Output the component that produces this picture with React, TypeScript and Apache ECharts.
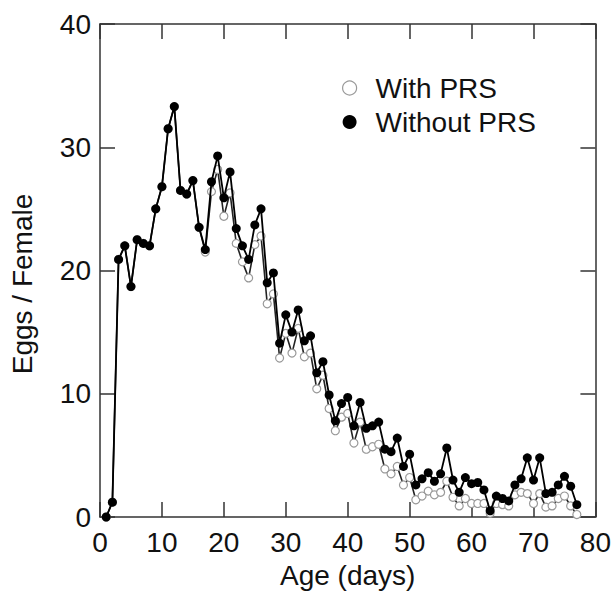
import React, { useEffect, useRef } from "react";
import * as echarts from "echarts";

const ages: number[] = Array.from({ length: 77 }, (_, i) => i + 1);

const withoutPRS: number[] = [
  0, 1.2, 20.9, 22.0, 18.7, 22.5, 22.2, 22.0, 25.0, 26.8,
  31.5, 33.3, 26.5, 26.2, 27.3, 23.5, 21.7, 27.2, 29.3, 25.9,
  28.0, 23.4, 22.0, 20.9, 23.7, 25.0, 19.0, 19.8, 14.1, 16.4,
  15.0, 16.8, 14.3, 14.7, 11.7, 12.6, 9.9, 7.8, 9.2, 9.7,
  7.4, 9.3, 7.2, 7.4, 7.7, 5.5, 5.3, 6.4, 4.1, 5.1,
  2.6, 3.1, 3.6, 2.9, 3.5, 5.6, 3.0, 2.0, 3.2, 2.7,
  2.8, 2.2, 0.5, 1.7, 1.5, 1.3, 2.6, 3.1, 4.8, 3.0,
  4.8, 1.9, 2.0, 2.6, 3.3, 2.5, 1.0,
];

const withPRS: number[] = [
  0, 1.2, 20.9, 22.0, 18.7, 22.5, 22.2, 22.0, 25.0, 26.8,
  31.5, 33.3, 26.5, 26.2, 27.3, 23.5, 21.5, 26.4, 28.2, 24.4,
  26.3, 22.2, 20.7, 19.4, 22.1, 22.8, 17.3, 18.1, 12.9, 14.9,
  13.3, 15.3, 13.0, 13.3, 10.4, 11.5, 8.8, 7.0, 8.1, 8.4,
  6.0, 7.7, 5.5, 5.7, 5.9, 3.9, 3.5, 4.1, 2.6, 3.2,
  1.4, 1.7, 2.1, 1.8, 2.0, 2.9, 1.6, 0.9, 1.5, 1.1,
  1.1, 1.1, 0.3, 1.1, 1.0, 0.9, 1.8, 2.0, 1.9, 1.1,
  1.9, 0.8, 0.9, 1.5, 1.7, 0.9, 0.2,
];

const xTicks = { min: 0, max: 80, interval: 10 };
const yTicks = { min: 0, max: 40, interval: 10 };

const FONT = "'Liberation Sans', Arial, Helvetica, sans-serif";
const AXIS_COLOR = "#333";
const FS = 28;

export default function App() {
  const ref = useRef<HTMLDivElement>(null);

  useEffect(() => {
    if (!ref.current) return;
    const chart = echarts.init(ref.current, undefined, { renderer: "svg" });
    const axisLine = { show: true, onZero: false, lineStyle: { color: AXIS_COLOR, width: 1.5 } };
    const tickInside = { show: true, inside: true, length: 15, lineStyle: { color: AXIS_COLOR, width: 1.5 } };
    const labelStyle = { color: "#111", fontSize: FS, fontFamily: FONT };
    chart.setOption({
      animation: false,
      backgroundColor: "#fff",
      grid: { left: 100, right: 18, top: 24, bottom: 76, containLabel: false },
      legend: {
        orient: "vertical",
        left: 337,
        top: 69,
        itemWidth: 14,
        itemHeight: 14,
        itemGap: 6,
        textStyle: { ...labelStyle, lineHeight: 28, padding: [0, 0, 0, 14] },
        data: [
          { name: "With PRS", icon: "circle", itemStyle: { color: "#fff", borderColor: "#999", borderWidth: 1.2 } },
          { name: "Without PRS", icon: "circle", itemStyle: { color: "#000" } },
        ],
      },
      xAxis: [
        {
          type: "value",
          ...xTicks,
          position: "bottom",
          axisLine,
          axisTick: tickInside,
          axisLabel: { ...labelStyle, margin: 11 },
          splitLine: { show: false },
          name: "Age (days)",
          nameLocation: "middle",
          nameGap: 44,
          nameTextStyle: { ...labelStyle },
        },
        {
          type: "value",
          ...xTicks,
          position: "top",
          axisLine,
          axisTick: tickInside,
          axisLabel: { show: false },
          splitLine: { show: false },
        },
      ],
      yAxis: [
        {
          type: "value",
          ...yTicks,
          position: "left",
          axisLine,
          axisTick: tickInside,
          axisLabel: { ...labelStyle, margin: 9 },
          splitLine: { show: false },
        },
        {
          type: "value",
          ...yTicks,
          position: "right",
          axisLine,
          axisTick: tickInside,
          axisLabel: { show: false },
          splitLine: { show: false },
        },
      ],
      graphic: [
        {
          type: "text",
          x: 22,
          y: 284,
          rotation: Math.PI / 2,
          style: {
            text: "Eggs / Female",
            fontSize: FS,
            fontFamily: FONT,
            fill: "#111",
            textAlign: "center",
            textVerticalAlign: "middle",
          },
        },
      ],
      series: [
        {
          name: "With PRS",
          type: "line",
          data: ages.map((a, i) => [a, withPRS[i]]),
          symbol: "circle",
          symbolSize: 8,
          showAllSymbol: true,
          lineStyle: { color: "#222", width: 1.6 },
          itemStyle: { color: "#fff", borderColor: "#999", borderWidth: 1.2 },
          z: 2,
        },
        {
          name: "Without PRS",
          type: "line",
          data: ages.map((a, i) => [a, withoutPRS[i]]),
          symbol: "circle",
          symbolSize: 9,
          showAllSymbol: true,
          lineStyle: { color: "#000", width: 1.8 },
          itemStyle: { color: "#000" },
          z: 3,
        },
      ],
    });
    return () => chart.dispose();
  }, []);

  return (
    <div
      ref={ref}
      style={{ position: "fixed", left: 0, top: 0, width: 614, height: 594, background: "#fff" }}
    />
  );
}
